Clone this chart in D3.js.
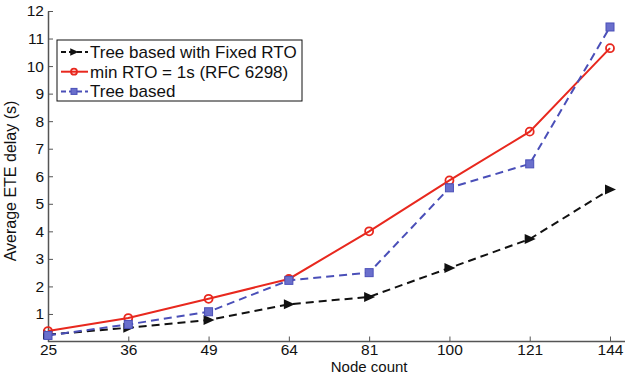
<!DOCTYPE html>
<html>
<head>
<meta charset="utf-8">
<script src="https://cdn.jsdelivr.net/npm/d3@7"></script>
<style>
  body { margin: 0; background: #fff; }
  svg { font-family: "Liberation Sans", Arial, sans-serif; }
  .axis path, .axis line { stroke: #555; }
  .axis text { font-size: 15.5px; fill: #111; }
</style>
</head>
<body>
<svg width="625" height="375"></svg>
<script>
const nodeCounts = ["25", "36", "49", "64", "81", "100", "121", "144"];
const fixedRto = [0.25, 0.5, 0.78, 1.35, 1.62, 2.67, 3.72, 5.52];
const minRto = [0.38, 0.85, 1.55, 2.27, 4.0, 5.85, 7.62, 10.65];
const treeBased = [0.22, 0.62, 1.08, 2.22, 2.5, 5.58, 6.45, 11.42];
const yTicks = [1, 2, 3, 4, 5, 6, 7, 8, 9, 10, 11, 12];

const series = [
  { name: "Tree based with Fixed RTO", values: fixedRto, color: "#111", dash: "8,5", marker: "tri" },
  { name: "min RTO = 1s (RFC 6298)", values: minRto, color: "#e8281e", dash: null, marker: "circle" },
  { name: "Tree based", values: treeBased, color: "#4a4fb8", dash: "8,5", marker: "square" }
];

const svg = d3.select("svg");
const left = 48;

const x = d3.scalePoint().domain(nodeCounts).range([left, 610]);
const y = d3.scaleLinear().domain([0, 12]).range([341.5, 11]);

// axes
svg.append("g")
  .attr("class", "axis")
  .attr("transform", "translate(0," + y(0) + ")")
  .call(d3.axisBottom(x).tickSizeInner(-5).tickSizeOuter(0).tickPadding(2))
  .call(g => g.select(".domain").attr("stroke-width", 1.5).attr("d", "M" + left + ",0H625"));

svg.append("g")
  .attr("class", "axis")
  .attr("transform", "translate(" + left + ",0)")
  .call(d3.axisLeft(y).tickValues(yTicks).tickSizeInner(-5).tickSizeOuter(0).tickPadding(4))
  .call(g => g.select(".domain").attr("stroke-width", 1.5));

svg.append("text")
  .attr("x", x("81"))
  .attr("y", 371.5)
  .attr("text-anchor", "middle")
  .attr("font-size", 15)
  .attr("fill", "#111")
  .text("Node count");

svg.append("text")
  .attr("transform", "translate(16," + 181 + ") rotate(-90)")
  .attr("text-anchor", "middle")
  .attr("font-size", 16)
  .attr("fill", "#111")
  .text("Average ETE delay (s)");

function drawMarker(g, type, color, cx, cy, s) {
  s = s || 1;
  if (type === "tri") {
    g.append("path")
      .attr("d", "M" + (cx - 5 * s) + "," + (cy - 5 * s) + "L" + (cx + 6 * s) + "," + cy + "L" + (cx - 5 * s) + "," + (cy + 5 * s) + "Z")
      .attr("fill", color);
  } else if (type === "circle") {
    g.append("circle")
      .attr("cx", cx).attr("cy", cy).attr("r", 4 * s)
      .attr("fill", "none").attr("stroke", color).attr("stroke-width", 1.8);
  } else {
    g.append("rect")
      .attr("x", cx - 4 * s).attr("y", cy - 4 * s).attr("width", 8 * s).attr("height", 8 * s)
      .attr("fill", "#6a6fcc").attr("stroke", color).attr("stroke-width", 1);
  }
}

const line = d3.line().x((d, i) => x(nodeCounts[i])).y(d => y(d));

series.forEach(s => {
  const g = svg.append("g");
  g.append("path")
    .attr("d", line(s.values))
    .attr("fill", "none")
    .attr("stroke", s.color)
    .attr("stroke-width", 2)
    .attr("stroke-dasharray", s.dash);
  s.values.forEach((v, i) => drawMarker(g, s.marker, s.color, x(nodeCounts[i]), y(v)));
});

// legend
const legend = svg.append("g");
legend.append("rect")
  .attr("x", 57).attr("y", 40).attr("width", 245).attr("height", 61)
  .attr("fill", "#fff").attr("stroke", "#111").attr("stroke-width", 1);

series.forEach((s, i) => {
  const ly = 52 + i * 19.7;
  legend.append("line")
    .attr("x1", 61).attr("x2", 88).attr("y1", ly).attr("y2", ly)
    .attr("stroke", s.color).attr("stroke-width", 2)
    .attr("stroke-dasharray", s.dash ? "5,3" : null);
  drawMarker(legend, s.marker, s.color, 74, ly, 0.75);
  legend.append("text")
    .attr("x", 90).attr("y", ly + 6)
    .attr("font-size", 17)
    .attr("fill", "#111")
    .text(s.name);
});
</script>
</body>
</html>
